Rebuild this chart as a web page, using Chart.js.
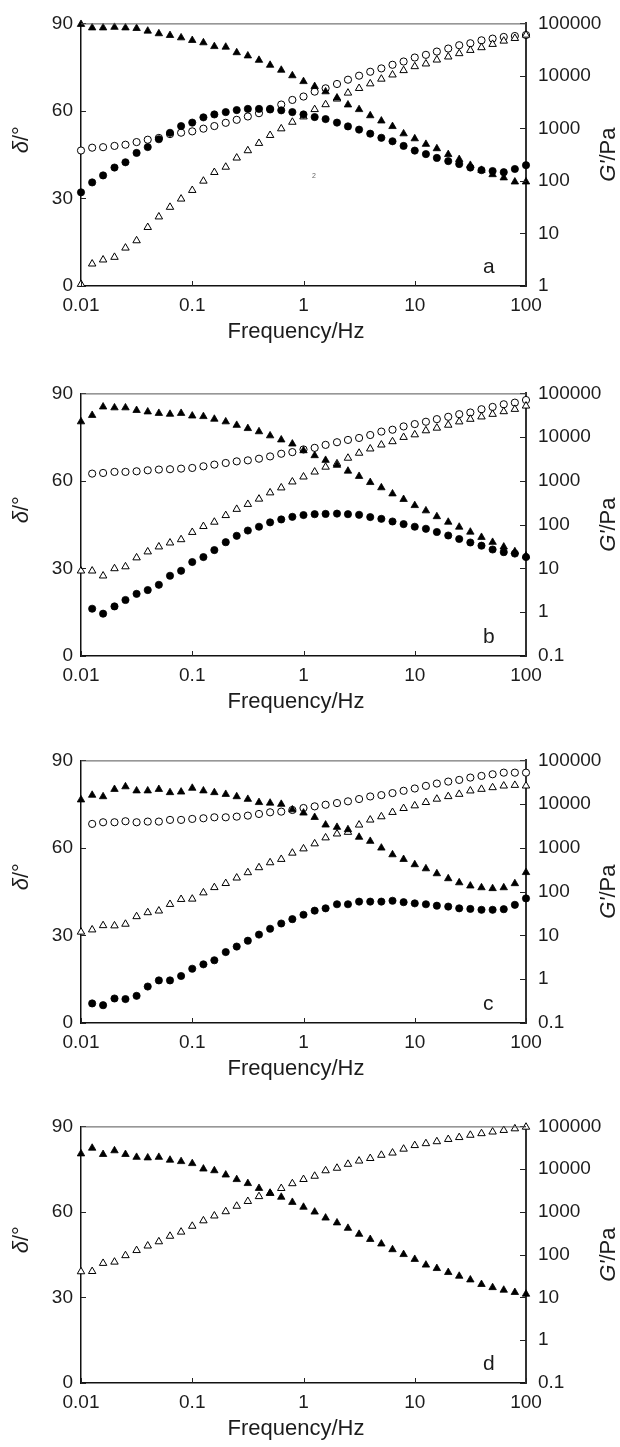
<!DOCTYPE html>
<html><head><meta charset="utf-8">
<script src="https://cdn.jsdelivr.net/npm/chart.js@4.4.0/dist/chart.umd.min.js"></script>
<style>
html,body{margin:0;padding:0;background:#fff;width:620px;height:1447px;overflow:hidden;position:relative;}
canvas{position:absolute;left:0;}
</style></head><body>
<canvas id="pa" width="620" height="350" style="top:0px"></canvas>
<canvas id="pb" width="620" height="350" style="top:370px"></canvas>
<canvas id="pc" width="620" height="350" style="top:737px"></canvas>
<canvas id="pd" width="620" height="344" style="top:1103px"></canvas>
<script>
// ---- categories (frequency, Hz) ----
const freq = [0.01,0.0126,0.0158,0.02,0.0251,0.0316,0.0398,0.0501,0.0631,0.0794,
  0.1,0.126,0.158,0.2,0.251,0.316,0.398,0.501,0.631,0.794,
  1,1.26,1.58,2,2.51,3.16,3.98,5.01,6.31,7.94,
  10,12.6,15.8,20,25.1,31.6,39.8,50.1,63.1,79.4,100];

// ---- tick values / labels ----
const xTickValues = [0.01,0.1,1,10,100];
const xTickLabels = ['0.01','0.1','1','10','100'];
const leftTickValues = [0,30,60,90];
const leftTickLabels = ['0','30','60','90'];
const rightTickValuesA = [1,10,100,1000,10000,100000];
const rightTickLabelsA = ['1','10','100','1000','10000','100000'];
const rightTickValuesB = [0.1,1,10,100,1000,10000,100000];
const rightTickLabelsB = ['0.1','1','10','100','1000','10000','100000'];

// ---- panel a ----
const aDeltaTri = [89.7,88.5,88.5,88.7,88.5,88.3,87.4,86.5,85.9,85.1,84.2,83.4,82.1,81.9,80.0,78.9,77.4,75.7,74.0,72.1,70.1,68.4,66.6,64.5,62.1,60.5,58.4,56.6,54.7,52.2,50.5,48.6,47.1,45.1,43.4,41.4,39.7,38.2,37.1,35.7,35.7];
const aDeltaCirc = [32.1,35.5,37.9,40.6,42.4,45.6,47.6,50.3,52.5,54.8,56.0,57.8,58.8,59.6,60.3,60.7,60.7,60.5,60.2,59.6,58.8,57.9,57.2,56.0,54.7,53.6,52.2,50.8,49.6,48.0,46.4,45.2,43.9,42.8,41.8,40.6,39.7,39.4,39.0,40.1,41.4];
const aGCirc = [380,430,440,465,490,550,610,660,780,830,880,990,1110,1280,1460,1690,1950,2360,2850,3490,4050,5020,5810,7020,8470,10100,12000,13900,16300,18800,22400,25200,29100,33200,38400,41900,47600,51300,55200,57500,60100];
const aGTri = [1.08,2.64,3.15,3.54,5.31,7.31,13.1,20.8,31.7,45.5,66.4,99.8,146,184,275,379,522,740,989,1320,1670,2300,2850,3650,4740,5810,7110,8730,10500,12700,15100,17000,20200,23100,26700,30800,34700,40100,46300,52000,60100];

// ---- panel b ----
const bDeltaTri = [80.3,82.5,85.4,85.1,85.1,84.2,83.7,83.2,82.9,83.2,82.3,82.1,81.2,80.3,79.1,78.0,76.9,75.5,74.1,72.7,70.4,68.7,67.1,65.4,63.4,61.6,59.5,57.7,55.6,53.7,51.6,49.8,47.8,45.9,44.2,42.5,40.7,39.0,37.4,35.8,34.3];
const bDeltaCirc = [null,16.2,14.5,17.0,19.2,21.3,22.6,24.4,27.5,29.2,32.2,33.9,36.3,39.0,41.2,43.0,44.3,45.8,46.8,47.7,48.3,48.6,48.7,48.8,48.6,48.4,47.6,47.0,46.1,45.2,44.3,43.6,42.5,41.3,40.1,38.9,37.8,36.5,35.6,35.1,33.9];
const bGCirc = [null,1470,1520,1610,1610,1660,1750,1820,1850,1910,1980,2160,2360,2570,2800,2950,3220,3630,4180,4550,5240,5700,6670,7660,8650,9590,11200,13400,14800,17600,19900,22500,25800,29200,33500,36600,43500,49100,56400,61500,70600];
const bGTri = [8.81,8.81,6.79,9.95,11.0,17.6,24.1,31.3,38.5,45.8,67.1,91.6,115,163,226,293,387,538,698,955,1240,1610,2080,2480,3330,4330,5420,6670,7940,9950,11400,14100,16200,18900,22500,25800,29200,33500,38500,43500,51800];

// ---- panel c ----
const cDeltaTri = [76.5,78.1,77.6,80.1,81.0,79.6,79.6,80.1,79.0,79.2,80.5,79.6,79.0,78.4,77.6,76.7,75.6,75.4,75.0,73.1,72.0,70.5,67.9,67.1,66.3,63.7,62.3,60.0,57.7,56.1,54.3,52.9,51.2,49.5,48.1,47.0,46.4,46.1,46.4,47.8,51.6];
const cDeltaCirc = [null,6.7,6.1,8.4,8.2,9.3,12.5,14.6,14.6,16.1,18.6,20.1,21.5,24.3,26.2,28.2,30.3,32.3,34.1,35.6,37.1,38.5,39.3,40.7,40.7,41.6,41.6,41.6,41.9,41.4,41.0,40.7,40.2,39.9,39.3,39.1,38.8,38.8,39.0,40.5,42.7];
const cGCirc = [null,3540,3860,3860,4070,3860,4000,4000,4370,4370,4600,4760,5010,5010,5190,5470,5970,6520,6750,7360,8170,8910,9700,10600,11600,13100,15000,16100,17900,20200,22800,26200,29600,32800,35800,40500,44200,48200,52500,52500,52500];
const cGTri = [12.0,13.5,16.9,16.7,18.2,27.1,33.4,36.5,51.6,67.0,68.2,94.8,125,155,207,274,356,462,551,766,959,1250,1710,2100,2290,3360,4370,5190,6520,8020,9230,11000,13100,15000,16900,20200,22000,24000,26200,27100,26200];

// ---- panel d ----
const dDeltaTri = [80.4,82.4,80.2,81.5,80.2,79.2,79.0,79.2,78.2,77.7,77.0,75.1,74.5,73.0,71.4,70.0,68.3,66.6,65.2,63.4,61.7,60.0,57.9,56.2,54.3,52.2,50.4,48.8,46.8,45.1,43.4,41.4,40.2,38.8,37.5,36.2,34.6,33.5,32.6,31.8,31.2];
const dGTri = [40.2,40.8,63.1,67.6,95.7,126,161,202,272,340,466,625,811,1020,1370,1770,2300,2740,3560,4610,5780,6890,9250,10600,13100,15600,17900,21300,24000,29600,35900,39800,44200,49900,55300,62500,68200,74500,81100,88500,96600];

const FONT = '"Liberation Sans", Arial, Helvetica, sans-serif';
const INK = '#1c1c1c';

function series(values, axis, style, filled) {
  const pts = [];
  values.forEach((v, i) => { if (v !== null) pts.push({x: freq[i], y: v}); });
  return {
    data: pts, yAxisID: axis, showLine: false, clip: false,
    pointStyle: style,
    pointRadius: style === 'triangle' ? 4.3 : 3.6,
    pointBackgroundColor: filled ? '#000' : '#fff',
    pointBorderColor: '#000',
    pointBorderWidth: filled ? 0.8 : 1
  };
}

const inwardTicks = {
  id: 'inwardTicks',
  afterDraw(chart) {
    const {ctx, chartArea: ca, scales} = chart;
    ctx.save();
    ctx.strokeStyle = '#222';
    ctx.lineWidth = 1;
    ctx.beginPath();
    scales.x.ticks.forEach(t => {
      const p = Math.round(scales.x.getPixelForValue(t.value)) + 0.5;
      ctx.moveTo(p, ca.bottom); ctx.lineTo(p, ca.bottom - 5);
    });
    scales.y.ticks.forEach(t => {
      const p = Math.round(scales.y.getPixelForValue(t.value)) + 0.5;
      ctx.moveTo(ca.left, p); ctx.lineTo(ca.left + 5, p);
    });
    scales.y1.ticks.forEach(t => {
      const p = Math.round(scales.y1.getPixelForValue(t.value)) + 0.5;
      ctx.moveTo(ca.right, p); ctx.lineTo(ca.right - 6, p);
    });
    ctx.stroke();
    ctx.strokeStyle = '#555';
    ctx.beginPath();
    ctx.moveTo(ca.left, ca.top + 0.5); ctx.lineTo(ca.right, ca.top + 0.5);
    ctx.stroke();
    ctx.restore();
  }
};

function mixedRotated(ctx, parts, x, y) {
  ctx.save();
  ctx.translate(x, y);
  ctx.rotate(-Math.PI / 2);
  ctx.textAlign = 'left';
  ctx.textBaseline = 'alphabetic';
  let total = 0;
  parts.forEach(p => { ctx.font = p[0]; total += ctx.measureText(p[1]).width; });
  let cx = -total / 2;
  parts.forEach(p => { ctx.font = p[0]; ctx.fillText(p[1], cx, 0); cx += ctx.measureText(p[1]).width; });
  ctx.restore();
}

const panelText = {
  id: 'panelText',
  afterDraw(chart, args, opts) {
    const {ctx, chartArea: ca} = chart;
    const midY = (ca.top + ca.bottom) / 2;
    ctx.save();
    ctx.fillStyle = INK;
    ctx.font = '22px ' + FONT;
    ctx.textAlign = 'center';
    ctx.textBaseline = 'alphabetic';
    ctx.fillText('Frequency/Hz', 296, ca.bottom + 52);
    mixedRotated(ctx, [['italic 22px ' + FONT, 'δ'], ['22px ' + FONT, '/°']], 28, midY - 15);
    mixedRotated(ctx, [['italic 22px ' + FONT, "G'"], ['22px ' + FONT, '/Pa']], 615, midY);
    ctx.font = '21px ' + FONT;
    ctx.textAlign = 'left';
    ctx.fillText(opts.letter, 483, ca.bottom - 12.7);
    if (opts.note) {
      ctx.font = '7px ' + FONT;
      ctx.fillStyle = '#666';
      ctx.textAlign = 'center';
      ctx.fillText(opts.note, 314, 178);
    }
    ctx.restore();
  }
};

function tickFont() { return {family: FONT, size: 19}; }

function makePanel(id, letter, rightMin, rightVals, rightLabels, datasets, note) {
  new Chart(document.getElementById(id), {
    type: 'scatter',
    data: {datasets},
    options: {
      responsive: false, animation: false, devicePixelRatio: 1, events: [],
      layout: {padding: {top: 21, left: 0, right: 0, bottom: 0}},
      plugins: {legend: {display: false}, tooltip: {enabled: false}, panelText: {letter, note}},
      scales: {
        x: {
          type: 'logarithmic', position: 'bottom', min: 0.01, max: 100,
          afterBuildTicks: s => { s.ticks = xTickValues.map(v => ({value: v})); },
          afterFit: s => { s.height = 64; },
          grid: {display: false, drawTicks: false},
          border: {display: true, color: '#111', width: 1.5},
          ticks: {autoSkip: false, maxRotation: 0, padding: 8, font: tickFont(), color: INK,
                  callback: (v, i) => xTickLabels[i]}
        },
        y: {
          type: 'linear', position: 'left', min: 0, max: 90,
          afterBuildTicks: s => { s.ticks = leftTickValues.map(v => ({value: v})); },
          afterFit: s => { s.width = 81; },
          grid: {display: false, drawTicks: false},
          border: {display: true, color: '#111', width: 1.5},
          ticks: {autoSkip: false, padding: 8, font: tickFont(), color: INK,
                  callback: (v, i) => leftTickLabels[i]}
        },
        y1: {
          type: 'logarithmic', position: 'right', min: rightMin, max: 100000,
          afterBuildTicks: s => { s.ticks = rightVals.map(v => ({value: v})); },
          afterFit: s => { s.width = 94; },
          grid: {display: false, drawTicks: false},
          border: {display: true, color: '#333', width: 2},
          ticks: {autoSkip: false, padding: 12, font: tickFont(), color: INK,
                  callback: (v, i) => rightLabels[i]}
        }
      }
    },
    plugins: [inwardTicks, panelText]
  });
}

makePanel('pa', 'a', 1, rightTickValuesA, rightTickLabelsA, [
  series(aDeltaTri, 'y', 'triangle', true),
  series(aDeltaCirc, 'y', 'circle', true),
  series(aGTri, 'y1', 'triangle', false),
  series(aGCirc, 'y1', 'circle', false)
], '2');

makePanel('pb', 'b', 0.1, rightTickValuesB, rightTickLabelsB, [
  series(bDeltaTri, 'y', 'triangle', true),
  series(bDeltaCirc, 'y', 'circle', true),
  series(bGTri, 'y1', 'triangle', false),
  series(bGCirc, 'y1', 'circle', false)
]);

makePanel('pc', 'c', 0.1, rightTickValuesB, rightTickLabelsB, [
  series(cDeltaTri, 'y', 'triangle', true),
  series(cDeltaCirc, 'y', 'circle', true),
  series(cGTri, 'y1', 'triangle', false),
  series(cGCirc, 'y1', 'circle', false)
]);

makePanel('pd', 'd', 0.1, rightTickValuesB, rightTickLabelsB, [
  series(dDeltaTri, 'y', 'triangle', true),
  series(dGTri, 'y1', 'triangle', false)
]);
</script>
</body></html>
